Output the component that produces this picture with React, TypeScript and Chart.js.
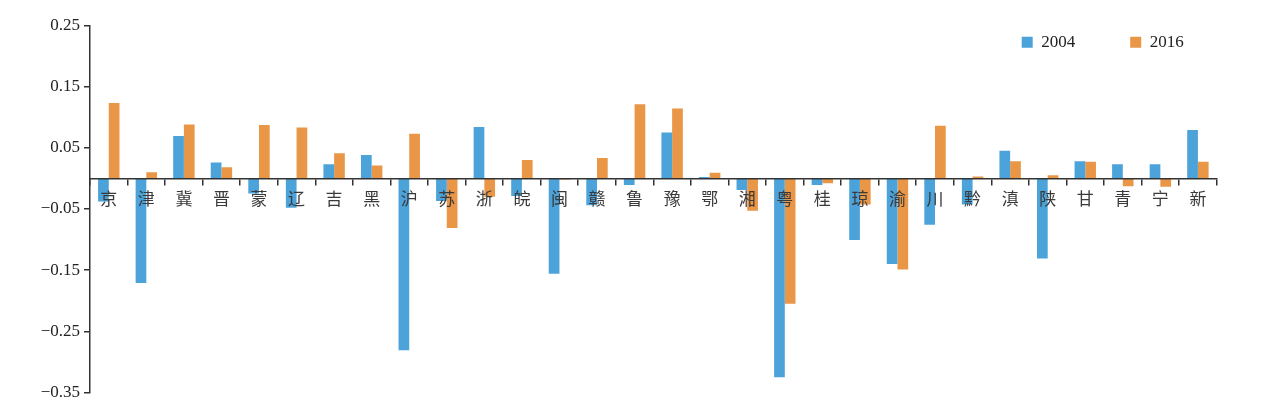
import React, { useEffect, useRef } from "react";
import { Chart, registerables } from "chart.js";

Chart.register(...registerables);

const categories = ["京","津","冀","晋","蒙","辽","吉","黑","沪","苏","浙","皖","闽","赣","鲁","豫","鄂","湘","粤","桂","琼","渝","川","黔","滇","陕","甘","青","宁","新"];
const series2004 = [-0.038, -0.171, 0.069, 0.026, -0.025, -0.048, 0.023, 0.038, -0.281, -0.037, 0.084, -0.029, -0.156, -0.044, -0.011, 0.075, 0.002, -0.019, -0.325, -0.011, -0.101, -0.140, -0.076, -0.043, 0.045, -0.131, 0.028, 0.023, 0.023, 0.079];
const series2016 = [0.123, 0.010, 0.088, 0.018, 0.087, 0.083, 0.041, 0.021, 0.073, -0.081, -0.030, 0.030, -0.002, 0.033, 0.121, 0.114, 0.009, -0.053, -0.205, -0.008, -0.043, -0.149, 0.086, 0.003, 0.028, 0.005, 0.027, -0.013, -0.014, 0.027];
const yTickValues = [-0.35, -0.25, -0.15, -0.05, 0.05, 0.15, 0.25];
const seriesLabels = ["2004", "2016"];

const legendShift = {
  id: "legendShift",
  afterLayout(chart: any) {
    const lg = chart.legend;
    if (!lg) return;
    lg.left += 22;
    lg.right += 22;
    lg.top -= 46.6;
    lg.height = 90;
    lg.bottom = lg.top + lg.height;
  },
};

export default function App() {
  const ref = useRef<HTMLCanvasElement | null>(null);
  useEffect(() => {
    if (!ref.current) return;
    Chart.defaults.font.family = "'Liberation Serif', 'Times New Roman', serif";
    const axisColor = "#333333";
    const chart = new Chart(ref.current, {
      type: "bar",
      data: {
        labels: categories,
        datasets: [
          { label: seriesLabels[0], data: series2004, backgroundColor: "#4BA3DA", borderWidth: 0, categoryPercentage: 0.57, barPercentage: 1 },
          { label: seriesLabels[1], data: series2016, backgroundColor: "#E99646", borderWidth: 0, categoryPercentage: 0.57, barPercentage: 1 },
        ],
      },
      options: {
        animation: false,
        responsive: false,
        maintainAspectRatio: false,
        layout: { padding: { left: 0, right: 51.3, top: 25.3, bottom: 24.5 } },
        plugins: {
          tooltip: { enabled: false },
          legend: {
            position: "top",
            align: "end",
            maxHeight: 0.01,
            labels: {
              boxWidth: 11,
              boxHeight: 11,
              padding: 55,
              color: "#222",
              font: { size: 17, family: "'Liberation Serif', serif" },
            },
          },
        },
        scales: {
          x: {
            type: "category",
            position: { y: 0 } as any,
            afterFit(scale: any) { scale.height = 0; },
            border: { color: axisColor, width: 1.5, z: 1 },
            grid: { offset: true, drawOnChartArea: false, drawTicks: true, tickLength: 6, color: axisColor, lineWidth: 1.5, z: 1 },
            ticks: {
              z: 1,
              color: "#3a3a3a",
              padding: 4.5,
              maxRotation: 0,
              autoSkip: false,
              font: { size: 17, family: "'Noto Sans CJK SC', sans-serif" },
            },
          },
          y: {
            type: "linear",
            min: -0.35,
            max: 0.25,
            afterFit(scale: any) { scale.width = 90; },
            afterBuildTicks(scale: any) { scale.ticks = yTickValues.map((v) => ({ value: v })); },
            border: { color: axisColor, width: 1.5 },
            grid: { drawOnChartArea: false, drawTicks: true, tickLength: 6, color: axisColor, lineWidth: 1.5 },
            ticks: {
              color: "#222",
              padding: 4,
              font: { size: 17, family: "'Liberation Serif', serif" },
              callback: (v: any) => Number(v).toFixed(2).replace("-", "\u2212"),
            },
          },
        },
      },
      plugins: [legendShift],
    });
    return () => chart.destroy();
  }, []);
  return (
    <div style={{ position: "absolute", left: 0, top: 0, width: 1268, height: 417, background: "#fff" }}>
      <canvas ref={ref} width={1268} height={417} style={{ width: 1268, height: 417 }} />
    </div>
  );
}
